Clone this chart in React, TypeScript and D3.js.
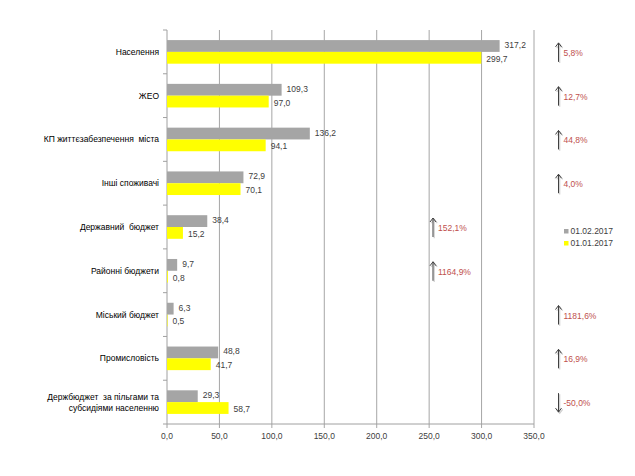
import React from "react";
import * as d3 from "d3";

const categories = [
  "Населення",
  "ЖЕО",
  "КП життєзабезпечення  міста",
  "Інші споживачі",
  "Державний  бюджет",
  "Районні бюджети",
  "Міський бюджет",
  "Промисловість",
  "Держбюджет  за пільгами та|субсидіями населенню",
];
const seriesFeb = [317.2, 109.3, 136.2, 72.9, 38.4, 9.7, 6.3, 48.8, 29.3];
const seriesJan = [299.7, 97.0, 94.1, 70.1, 15.2, 0.8, 0.5, 41.7, 58.7];
const changes = ["5,8%", "12,7%", "44,8%", "4,0%", "152,1%", "1164,9%", "1181,6%", "16,9%", "-50,0%"];
const changeUp = [true, true, true, true, true, true, true, true, false];
const changeInside = [false, false, false, false, true, true, false, false, false];
const xTicks = [0, 50, 100, 150, 200, 250, 300, 350];
const seriesNames = ["01.02.2017", "01.01.2017"];

const W = 635;
const H = 476;
const plot = { left: 167, right: 534, top: 30, bottom: 424 };
const GRAY = "#a5a5a5";
const YELLOW = "#ffff00";
const TEXT = "#404040";
const RED = "#c0504d";
const FONT = "'Liberation Sans', Arial, sans-serif";
const fmt = (v: number) => v.toFixed(1).replace(".", ",");

function Arrow({ x, cy, up }: { x: number; cy: number; up: boolean }) {
  const top = cy - 10;
  const bot = cy + 9;
  const tip = up ? top : bot;
  const dir = up ? 1 : -1;
  return (
    <g>
      <g transform="translate(1.2,1.2)" stroke="#cfcfcf" strokeWidth={1.2} fill="none">
        <line x1={x} x2={x} y1={top} y2={bot} />
        <path d={`M${x - 3},${tip + dir * 4} L${x},${tip} L${x + 3},${tip + dir * 4}`} />
      </g>
      <g stroke="#404040" strokeWidth={1} fill="none">
        <line x1={x} x2={x} y1={top} y2={bot} />
        <path d={`M${x - 3},${tip + dir * 4} L${x},${tip} L${x + 3},${tip + dir * 4}`} />
      </g>
    </g>
  );
}

export default function App() {
  const x = d3.scaleLinear().domain([0, 350]).range([plot.left, plot.right]);
  const y = d3.scaleBand<number>().domain(d3.range(categories.length)).range([plot.top, plot.bottom]);
  const bw = 11.8;
  return (
    <svg width={W} height={H} style={{ position: "absolute", left: 0, top: 0, background: "#fff" }} fontFamily={FONT}>
      {/* gridlines */}
      {xTicks.map((t) => (
        <line key={"g" + t} x1={x(t)} x2={x(t)} y1={plot.top} y2={plot.bottom + 4} stroke={t === 0 ? "#a0a0a0" : "#a6a6a6"} strokeWidth={1} />
      ))}
      {/* x axis */}
      <line x1={plot.left} x2={plot.right} y1={plot.bottom} y2={plot.bottom} stroke="#a0a0a0" />
      {/* y ticks */}
      {d3.range(categories.length + 1).map((i) => {
        const yy = plot.top + i * y.step();
        return <line key={"yt" + i} x1={plot.left - 4} x2={plot.left} y1={yy} y2={yy} stroke="#a0a0a0" />;
      })}
      {xTicks.map((t) => (
        <text key={"xl" + t} x={x(t)} y={plot.bottom + 15} textAnchor="middle" fontSize={8.5} fill={TEXT}>
          {fmt(t)}
        </text>
      ))}
      {categories.map((c, i) => {
        const cy = (y(i) as number) + y.bandwidth() / 2;
        const lines = c.split("|");
        return (
          <g key={"c" + i}>
            {lines.map((ln, j) => (
              <text key={j} x={159} y={cy + (j - (lines.length - 1) / 2) * 11} dy="0.35em" textAnchor="end" fontSize={8.5} fill="#000" style={{ whiteSpace: "pre" }}>
                {ln}
              </text>
            ))}
            <rect x={x(0)} y={cy - bw} width={x(seriesFeb[i]) - x(0)} height={bw} fill={GRAY} />
            <rect x={x(0)} y={cy} width={x(seriesJan[i]) - x(0)} height={bw} fill={YELLOW} />
            <text x={x(seriesFeb[i]) + 5} y={cy - bw / 2 - 1} dy="0.35em" fontSize={8.5} fill={TEXT}>
              {fmt(seriesFeb[i])}
            </text>
            <text x={x(seriesJan[i]) + 5} y={cy + bw / 2 + 1} dy="0.35em" fontSize={8.5} fill={TEXT}>
              {fmt(seriesJan[i])}
            </text>
            <Arrow x={changeInside[i] ? 433 : 558.5} cy={cy + 1} up={changeUp[i]} />
            <text x={(changeInside[i] ? 433 : 558.5) + 5} y={cy + 1} dy="0.35em" fontSize={8.5} fill={RED}>
              {changes[i]}
            </text>
          </g>
        );
      })}
      {/* legend */}
      {seriesNames.map((n, i) => (
        <g key={"lg" + i}>
          <rect x={564} y={231 + i * 12 - 2} width={4.5} height={4.5} fill={i === 0 ? GRAY : YELLOW} />
          <text x={570.5} y={231 + i * 12} dy="0.35em" fontSize={8.5} fill={TEXT}>
            {n}
          </text>
        </g>
      ))}
    </svg>
  );
}
